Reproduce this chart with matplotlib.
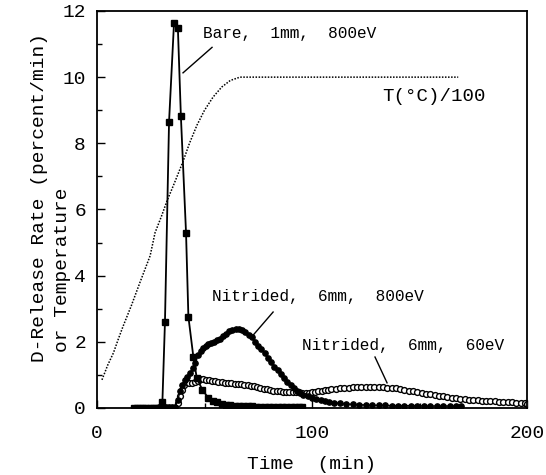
import numpy as np
import matplotlib
matplotlib.use('Agg')
import matplotlib.pyplot as plt
from matplotlib.ticker import MultipleLocator

plt.rcParams['font.family'] = ['Liberation Mono', 'DejaVu Sans Mono']

# Bare sample, 1 mm, 800 eV (filled squares)
bare_t = [17, 18.5, 20, 21.5, 23, 24.5, 26, 27.5, 29, 30.4, 31.6, 33.5, 35.8, 37.6,
          39.0, 41.4, 42.5, 44.8, 46.4, 49.0, 51.8, 54, 56, 58, 60, 62, 64, 66, 68,
          70, 72, 74, 76, 78, 80, 82, 84, 86, 88, 90, 92, 94, 95.5]
bare_v = [0, 0, 0, 0, 0, 0, 0, 0, 0, 0.17, 2.6, 8.65, 11.63, 11.5,
          8.83, 5.3, 2.76, 1.55, 0.9, 0.55, 0.3, 0.22, 0.17, 0.13, 0.1, 0.08, 0.07, 0.06, 0.05,
          0.05, 0.05, 0.04, 0.04, 0.04, 0.04, 0.03, 0.03, 0.03, 0.03, 0.03, 0.03, 0.03, 0.03]

# Nitrided, 6 mm, 800 eV (filled circles)
n800_t = [29, 30.5, 32, 33.5, 35, 36.3, 37.7, 38.5, 39.5, 41, 42, 43.3, 44.5, 45.6,
          47, 48.2, 49.4, 50.5, 51.6, 53, 54.5, 55.8, 57, 58.5, 60, 61.5, 63, 64.5,
          66, 67.5, 69, 70.5, 72, 73.5, 75, 76.5, 78, 79.5, 81, 82.5, 84, 85.5, 87,
          88.5, 90, 91.5, 93, 94.5, 96, 98, 100, 102, 104, 106, 108, 110, 113, 116,
          119, 122, 125, 128, 131, 134, 137, 140, 143, 146, 149, 152, 155, 158, 161,
          164, 167, 169.5]
n800_v = [0.03, 0.03, 0.03, 0.03, 0.03, 0.03, 0.25, 0.5, 0.7, 0.85, 0.95, 1.05, 1.2, 1.35,
          1.6, 1.72, 1.8, 1.87, 1.92, 1.97, 2.0, 2.05, 2.1, 2.18, 2.25, 2.32, 2.36, 2.38,
          2.38, 2.36, 2.3, 2.22, 2.15, 2.0, 1.88, 1.78, 1.65, 1.5, 1.4, 1.25, 1.15, 1.02, 0.92,
          0.8, 0.68, 0.6, 0.52, 0.46, 0.4, 0.35, 0.3, 0.26, 0.23, 0.2, 0.18, 0.16, 0.14, 0.12,
          0.11, 0.1, 0.09, 0.08, 0.08, 0.08, 0.07, 0.07, 0.07, 0.07, 0.07, 0.06, 0.06, 0.06, 0.06,
          0.06, 0.06, 0.06]

# Nitrided, 6 mm, 60 eV (open circles)
n60_t = [33, 34.5, 36, 37.7, 38.5, 39.5, 40.5, 41.8, 43, 44.2, 45.5, 46.8, 48, 49.3,
         50.6, 52, 53.5, 55, 56.5, 58, 59.5, 61, 62.5, 64, 65.5, 67, 68.5, 70, 71.5,
         73, 74.5, 76, 77.5, 79, 80.5, 82, 83.5, 85, 86.5, 88, 89.5, 91, 92.5, 94,
         95.5, 97, 98.5, 100, 101.5, 103, 104.5, 106, 107.5, 109, 111, 113, 115, 117,
         119, 121, 123, 125, 127, 129, 131, 133, 135, 137, 139, 141, 143, 145, 147,
         149, 151, 153, 155, 157, 159, 161, 163, 165, 167, 169, 171, 173, 175, 177,
         179, 181, 183, 185, 187, 189, 191, 193, 195, 197, 199, 200]
n60_v = [0, 0, 0, 0.15, 0.35, 0.55, 0.7, 0.78, 0.76, 0.75, 0.78, 0.82, 0.88, 0.88,
         0.86, 0.85, 0.83, 0.82, 0.8, 0.78, 0.77, 0.75, 0.74, 0.73, 0.72, 0.71, 0.7, 0.69, 0.67,
         0.66, 0.64, 0.6, 0.57, 0.56, 0.54, 0.52, 0.51, 0.5, 0.49, 0.49, 0.48, 0.48, 0.47, 0.47,
         0.46, 0.46, 0.46, 0.47, 0.48, 0.5, 0.52, 0.54, 0.55, 0.57, 0.58, 0.59, 0.6, 0.61,
         0.62, 0.62, 0.63, 0.63, 0.63, 0.63, 0.62, 0.62, 0.61, 0.6, 0.59, 0.57, 0.55, 0.52, 0.5,
         0.47, 0.45, 0.43, 0.41, 0.39, 0.37, 0.35, 0.33, 0.31, 0.29, 0.28, 0.26, 0.25, 0.24, 0.23,
         0.22, 0.21, 0.2, 0.2, 0.19, 0.18, 0.18, 0.17, 0.16, 0.15, 0.14, 0.13]

# temperature / 100
temp_t = [2.3, 5, 7.6, 10, 12, 16, 20, 24.7, 27, 30, 32.5, 36, 40, 43, 46.5, 50, 54,
          58, 62, 66.5, 168]
temp_v = [0.85, 1.3, 1.66, 2.1, 2.45, 3.1, 3.8, 4.6, 5.3, 5.8, 6.25, 6.8, 7.45, 8.0,
          8.55, 9.0, 9.4, 9.7, 9.9, 10.0, 10.0]

fig = plt.figure(figsize=(5.46, 4.75), dpi=100)
ax = fig.add_axes([0.1777, 0.1411, 0.7875, 0.8358])

ax.plot(temp_t, temp_v, color='black', linewidth=1.1, linestyle=(0, (1, 1)))
ax.plot(n60_t, n60_v, color='black', linewidth=1, marker='o', markersize=4.2,
        markerfacecolor='white', markeredgecolor='black', markeredgewidth=1)
ax.plot(n800_t, n800_v, color='black', linewidth=1, marker='o', markersize=3.8,
        markerfacecolor='black', markeredgecolor='black')
ax.plot(bare_t, bare_v, color='black', linewidth=1.3, marker='s', markersize=4,
        markerfacecolor='black', markeredgecolor='black')

# curve labels with leader lines
fs = 11.6
ax.text(49.5, 11.33, 'Bare,  1mm,  800eV', fontsize=fs, va='center', ha='left')
ax.plot([53.5, 40.0], [10.9, 10.13], color='black', linewidth=1)
ax.text(132.5, 9.4, 'T(°C)/100', fontsize=13.8, va='center', ha='left')
ax.text(53.5, 3.36, 'Nitrided,  6mm,  800eV', fontsize=fs, va='center', ha='left')
ax.plot([81.9, 72.6], [2.9, 2.2], color='black', linewidth=1)
ax.text(95.5, 1.9, 'Nitrided,  6mm,  60eV', fontsize=fs, va='center', ha='left')
ax.plot([129.3, 134.9], [1.54, 0.76], color='black', linewidth=1)

ax.set_xlim(0, 200)
ax.set_ylim(0, 12)
ax.xaxis.set_major_locator(MultipleLocator(100))
ax.xaxis.set_minor_locator(MultipleLocator(50))
ax.yaxis.set_major_locator(MultipleLocator(2))
ax.yaxis.set_minor_locator(MultipleLocator(1))
ax.tick_params(which='both', direction='in', width=1, labelsize=14)
ax.tick_params(which='major', length=6)
ax.tick_params(which='minor', length=3.5)
ax.tick_params(axis='x', which='both', pad=12)
ax.tick_params(axis='y', which='both', pad=8)
for s in ax.spines.values():
    s.set_linewidth(1.3)

ax.set_xlabel('Time  (min)', fontsize=14, labelpad=10)
fig.text(0.073, 0.238, 'D-Release Rate (percent/min)', rotation=90,
         fontsize=14, ha='center', va='bottom')
fig.text(0.114, 0.259, 'or Temperature', rotation=90,
         fontsize=14, ha='center', va='bottom')

fig.savefig('out.png', dpi=100)
